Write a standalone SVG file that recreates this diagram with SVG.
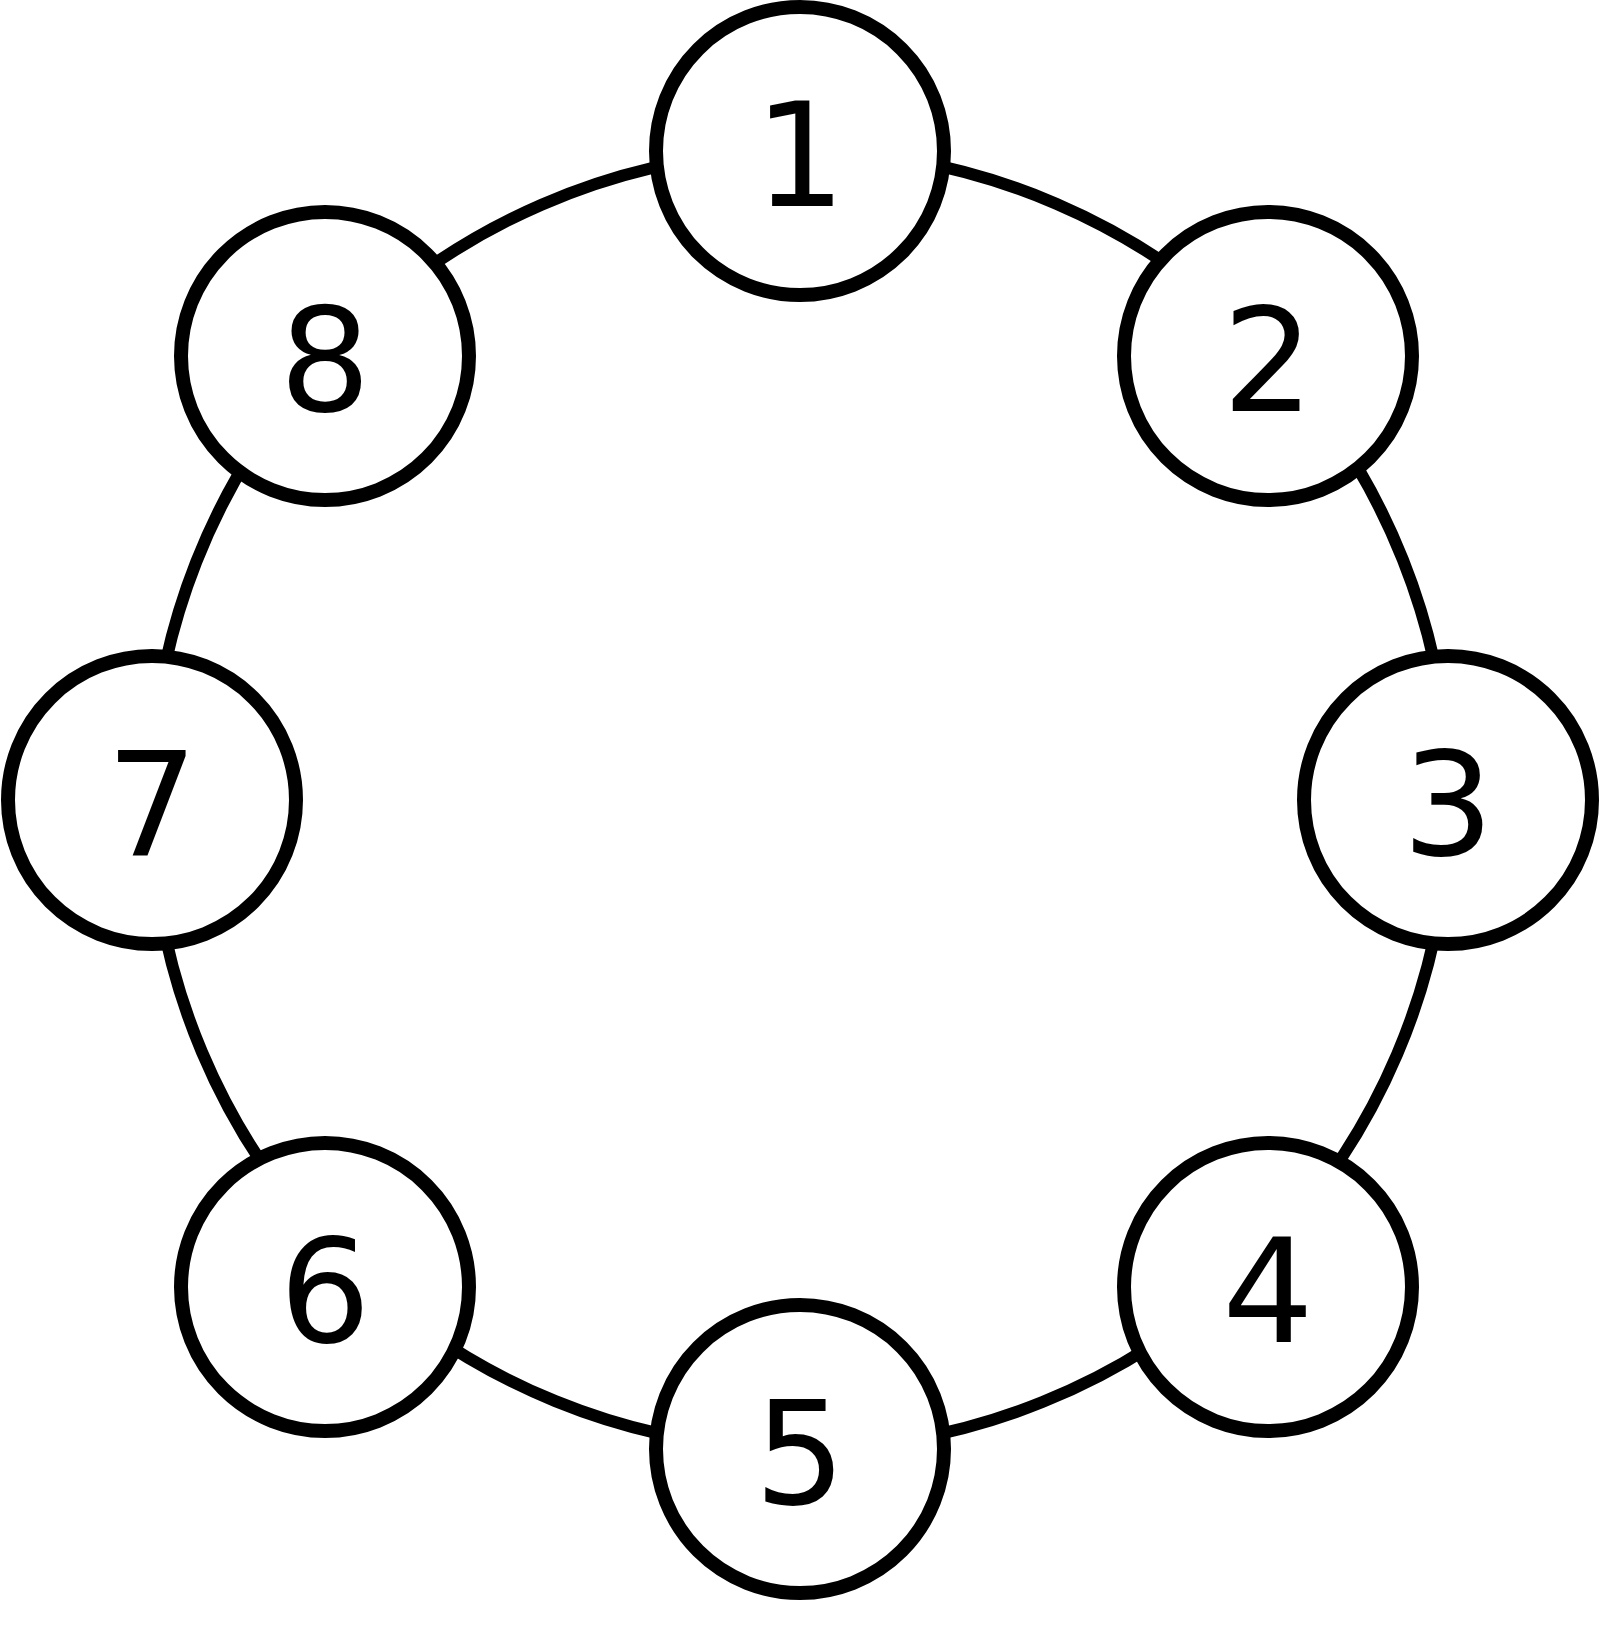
<svg xmlns="http://www.w3.org/2000/svg" width="1600" height="1648" viewBox="0 0 1600 1648">
<style>
.edge{fill:none;stroke:#000;stroke-width:12}
.node circle{fill:#fff;stroke:#000;stroke-width:14}
.node text{font-family:"DejaVu Sans",sans-serif;font-size:144px;text-anchor:middle;fill:#000}
</style>
<rect width="1600" height="1648" fill="#fff"/>
<g id="edges">
<path class="edge" d="M800,151 A649,649 0 0 1 1270.8,353.2"/>
<path class="edge" d="M1270.8,353.2 A649,649 0 0 1 1449,800"/>
<path class="edge" d="M1449,800 A649,649 0 0 1 1249.8,1267.9"/>
<path class="edge" d="M1249.8,1267.9 A649,649 0 0 1 800,1449"/>
<path class="edge" d="M800,1449 A649,649 0 0 1 346.9,1264.6"/>
<path class="edge" d="M346.9,1264.6 A649,649 0 0 1 151,800"/>
<path class="edge" d="M151,800 A649,649 0 0 1 325.9,356.8"/>
<path class="edge" d="M325.9,356.8 A649,649 0 0 1 800,151"/>
</g>
<g id="node1" class="node"><circle cx="800" cy="151" r="144"/><text x="800" y="206">1</text></g>
<g id="node2" class="node"><circle cx="1268" cy="356" r="144"/><text x="1268" y="411">2</text></g>
<g id="node3" class="node"><circle cx="1448" cy="800" r="144"/><text x="1448" y="855">3</text></g>
<g id="node4" class="node"><circle cx="1268" cy="1287" r="144"/><text x="1268" y="1342">4</text></g>
<g id="node5" class="node"><circle cx="800" cy="1449" r="144"/><text x="800" y="1504">5</text></g>
<g id="node6" class="node"><circle cx="325" cy="1287" r="144"/><text x="325" y="1342">6</text></g>
<g id="node7" class="node"><circle cx="152" cy="800" r="144"/><text x="152" y="855">7</text></g>
<g id="node8" class="node"><circle cx="325" cy="356" r="144"/><text x="325" y="411">8</text></g>
</svg>
